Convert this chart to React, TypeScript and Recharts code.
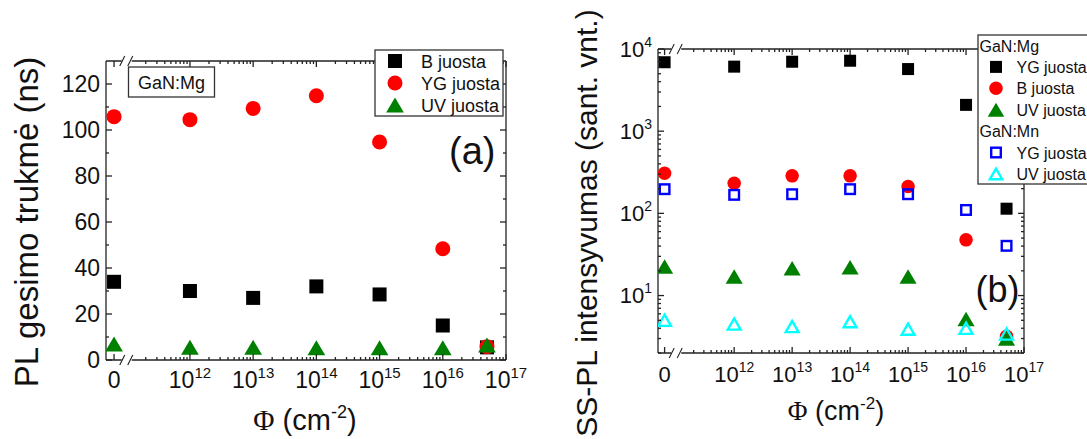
import React from 'react';
import { ScatterChart, Scatter, XAxis, YAxis } from 'recharts';

// ---------- shared x axis (fluence, log scale; "0" placed left of the break) ----------
const fluence = [6.3e10, 1e12, 1e13, 1e14, 1e15, 1e16, 5e16];
const xMajorTicks = [6.3e10, 1e12, 1e13, 1e14, 1e15, 1e16, 1e17];
const xMajorLabels = ['0', '12', '13', '14', '15', '16', '17'];
const xBreak = 1e11;
const xMinorTicks: number[] = [];
for (let e = 11; e <= 16; e++) for (let m = 2; m <= 9; m++) xMinorTicks.push(m * Math.pow(10, e));
const xAllTicks = [...xMajorTicks, xBreak, ...xMinorTicks];

// ---------- panel (a): PL decay time (ns) ----------
const lifeB = [34, 30, 27, 32, 28.5, 15, 5.5];
const lifeYG = [105.8, 104.5, 109.4, 114.9, 94.8, 48.4, 5.8];
const lifeUV = [7, 5.5, 5.5, 5.3, 5.3, 5.3, 6.5];
const lifeMajor = [0, 20, 40, 60, 80, 100, 120];
const lifeMinor = [10, 30, 50, 70, 90, 110];

// ---------- panel (b): SS-PL intensity (a.u.) ----------
const mgYG = [6900, 6100, 7000, 7200, 5700, 2090, 114];
const mgB = [308, 233, 286, 286, 212, 47.6, 3.2];
const mgUV = [22.5, 17, 21.5, 22.1, 17, 5.2, 3.0];
const mnYG = [197, 168, 171, 197, 171, 110, 40.3];
const mnUV = [5.0, 4.5, 4.2, 4.8, 3.9, 4.0, 3.4];
const intMajor = [10, 100, 1000, 10000];
const intMajorLabels = ['1', '2', '3', '4'];
const intMinor: number[] = [];
for (let e = 0; e <= 3; e++) for (let m = 2; m <= 9; m++) intMinor.push(m * Math.pow(10, e));

const pts = (ys: number[]) => fluence.map((x, i) => ({ x, y: ys[i] }));

const FONT = '"Liberation Sans", Arial, sans-serif';
const SERIF = '"Liberation Serif", "Times New Roman", serif';
const AX = '#222';
const SW = 1.3;
const RED = '#ff0000';
const GREEN = '#008000';
const BLUE = '#0000ff';
const CYAN = '#00ffff';

function Marker({ kind, cx, cy, s, color }: any) {
  if (cx == null || cy == null) return null;
  switch (kind) {
    case 'square':
      return <rect x={cx - s / 2} y={cy - s / 2} width={s} height={s} fill={color} />;
    case 'circle':
      return <circle cx={cx} cy={cy} r={s / 2} fill={color} />;
    case 'triangle': {
      const w = s * 1.18, h = s;
      return <polygon points={`${cx},${cy - h / 2} ${cx - w / 2},${cy + h / 2} ${cx + w / 2},${cy + h / 2}`} fill={color} />;
    }
    case 'osquare': {
      const t = 2.4, a = s - t;
      return <rect x={cx - a / 2} y={cy - a / 2} width={a} height={a} fill="none" stroke={color} strokeWidth={t} />;
    }
    case 'otriangle': {
      const t = 2.4, w = s * 1.15 - t * 1.6, h = s - t * 1.4;
      return <polygon points={`${cx},${cy - h / 2} ${cx - w / 2},${cy + h / 2} ${cx + w / 2},${cy + h / 2}`} fill="none" stroke={color} strokeWidth={t} strokeLinejoin="miter" />;
    }
  }
  return null;
}

function XTick(p: any) {
  const { x, y, payload, side, labelSize, supSize, labelGap } = p;
  const v = payload.value;
  const dir = side === 'bottom' ? -1 : 1;
  if (v === xBreak) {
    return (
      <g>
        <rect x={x - 5} y={y - 2} width={10} height={4} fill="#fff" />
        <line x1={x - 7} y1={y + 5} x2={x - 2} y2={y - 5} stroke={AX} strokeWidth={1.1} />
        <line x1={x + 1} y1={y + 5} x2={x + 6} y2={y - 5} stroke={AX} strokeWidth={1.1} />
      </g>
    );
  }
  const idx = xMajorTicks.indexOf(v);
  const len = idx >= 0 ? 6 : 3;
  return (
    <g>
      <line x1={x} y1={y} x2={x} y2={y + dir * len} stroke={AX} strokeWidth={SW} />
      {side === 'bottom' && idx >= 0 && (
        <text x={x} y={y + labelGap} textAnchor="middle" fontSize={labelSize} fontFamily={FONT} fill="#111">
          {xMajorLabels[idx] === '0' ? '0' : (
            <>
              10<tspan dy={-10} fontSize={supSize}>{xMajorLabels[idx]}</tspan>
            </>
          )}
        </text>
      )}
    </g>
  );
}

function YTick(p: any) {
  const { x, y, payload, side, majors, labels, labelSize, supSize, sup } = p;
  const v = payload.value;
  const dir = side === 'left' ? 1 : -1;
  const idx = majors.indexOf(v);
  const len = idx >= 0 ? 6 : 3;
  return (
    <g>
      <line x1={x} y1={y} x2={x + dir * len} y2={y} stroke={AX} strokeWidth={SW} />
      {side === 'left' && idx >= 0 && (
        <text x={x - 6} y={y + labelSize * 0.36} textAnchor="end" fontSize={labelSize} fontFamily={FONT} fill="#111">
          {sup ? (
            <>
              10<tspan dy={-10} fontSize={supSize}>{labels[idx]}</tspan>
            </>
          ) : labels[idx]}
        </text>
      )}
    </g>
  );
}

const axisLine = { stroke: AX, strokeWidth: SW };

function PanelA() {
  const series = [
    { data: lifeB, kind: 'square', s: 14, color: '#000' },
    { data: lifeYG, kind: 'circle', s: 15, color: RED },
    { data: lifeUV, kind: 'triangle', s: 15, color: GREEN },
  ];
  const xDomain = [4.7e10, 1e17];
  const yTicks = [...lifeMajor, ...lifeMinor];
  return (
    <ScatterChart width={540} height={439} margin={{ top: 0, right: 0, bottom: 0, left: 0 }}>
      <XAxis xAxisId="b" orientation="bottom" dataKey="x" type="number" scale="log" domain={xDomain} allowDataOverflow
        ticks={xAllTicks} interval={0} tickSize={0} tickMargin={0} height={79} axisLine={axisLine} tickLine={false}
        tick={(p: any) => <XTick {...p} side="bottom" labelSize={23} supSize={15} labelGap={28} />} />
      <XAxis xAxisId="t" orientation="top" dataKey="x" type="number" scale="log" domain={xDomain} allowDataOverflow
        ticks={xAllTicks} interval={0} tickSize={0} tickMargin={0} height={61} axisLine={axisLine} tickLine={false}
        tick={(p: any) => <XTick {...p} side="top" />} />
      <YAxis yAxisId="l" orientation="left" dataKey="y" type="number" domain={[0, 130]} allowDataOverflow
        ticks={yTicks} interval={0} tickSize={0} tickMargin={0} width={106} axisLine={axisLine} tickLine={false}
        tick={(p: any) => <YTick {...p} side="left" majors={lifeMajor} labels={lifeMajor.map(String)} labelSize={23} />} />
      <YAxis yAxisId="r" orientation="right" dataKey="y" type="number" domain={[0, 130]} allowDataOverflow
        ticks={yTicks} interval={0} tickSize={0} tickMargin={0} width={34} axisLine={axisLine} tickLine={false}
        tick={(p: any) => <YTick {...p} side="right" majors={lifeMajor} labels={[]} />} />
      {series.map((s, i) => (
        <Scatter key={i} xAxisId="b" yAxisId="l" data={pts(s.data)} isAnimationActive={false}
          shape={(p: any) => <Marker kind={s.kind} cx={p.cx} cy={p.cy} s={s.s} color={s.color} />} />
      ))}
    </ScatterChart>
  );
}

function PanelB() {
  const series = [
    { data: mgYG, kind: 'square', s: 12, color: '#000' },
    { data: mgB, kind: 'circle', s: 13.5, color: RED },
    { data: mgUV, kind: 'triangle', s: 14.5, color: GREEN },
    { data: mnYG, kind: 'osquare', s: 12, color: BLUE },
    { data: mnUV, kind: 'otriangle', s: 14.5, color: CYAN },
  ];
  const xDomain = [4.85e10, 1e17];
  const yDomain = [2, 10000];
  const yTicks = [...intMajor, ...intMinor];
  return (
    <ScatterChart width={547} height={439} margin={{ top: 0, right: 0, bottom: 0, left: 0 }}>
      <XAxis xAxisId="b" orientation="bottom" dataKey="x" type="number" scale="log" domain={xDomain} allowDataOverflow
        ticks={xAllTicks} interval={0} tickSize={0} tickMargin={0} height={86} axisLine={axisLine} tickLine={false}
        tick={(p: any) => <XTick {...p} side="bottom" labelSize={22} supSize={14} labelGap={29} />} />
      <XAxis xAxisId="t" orientation="top" dataKey="x" type="number" scale="log" domain={xDomain} allowDataOverflow
        ticks={xAllTicks} interval={0} tickSize={0} tickMargin={0} height={49} axisLine={axisLine} tickLine={false}
        tick={(p: any) => <XTick {...p} side="top" />} />
      <YAxis yAxisId="l" orientation="left" dataKey="y" type="number" scale="log" domain={yDomain} allowDataOverflow
        ticks={yTicks} interval={0} tickSize={0} tickMargin={0} width={118} axisLine={axisLine} tickLine={false}
        tick={(p: any) => <YTick {...p} side="left" majors={intMajor} labels={intMajorLabels} labelSize={22} supSize={14} sup />} />
      <YAxis yAxisId="r" orientation="right" dataKey="y" type="number" scale="log" domain={yDomain} allowDataOverflow
        ticks={yTicks} interval={0} tickSize={0} tickMargin={0} width={63} axisLine={axisLine} tickLine={false}
        tick={(p: any) => <YTick {...p} side="right" majors={intMajor} labels={[]} />} />
      {series.map((s, i) => (
        <Scatter key={i} xAxisId="b" yAxisId="l" data={pts(s.data)} isAnimationActive={false}
          shape={(p: any) => <Marker kind={s.kind} cx={p.cx} cy={p.cy} s={s.s} color={s.color} />} />
      ))}
    </ScatterChart>
  );
}

const legendA = [
  { label: 'B juosta', kind: 'square', s: 14, color: '#000' },
  { label: 'YG juosta', kind: 'circle', s: 15, color: RED },
  { label: 'UV juosta', kind: 'triangle', s: 15, color: GREEN },
];
const legendB = [
  { header: 'GaN:Mg' },
  { label: 'YG juosta', kind: 'square', s: 12, color: '#000' },
  { label: 'B juosta', kind: 'circle', s: 13.5, color: RED },
  { label: 'UV juosta', kind: 'triangle', s: 14, color: GREEN },
  { header: 'GaN:Mn' },
  { label: 'YG juosta', kind: 'osquare', s: 12, color: BLUE },
  { label: 'UV juosta', kind: 'otriangle', s: 14, color: CYAN },
];

function Overlay() {
  return (
    <svg width={1087} height={439} style={{ position: 'absolute', left: 0, top: 0 }} fontFamily={FONT}>
      {/* axis titles */}
      <text transform="translate(38,222) rotate(-90)" textAnchor="middle" fontSize={33} fill="#111">PL gesimo trukmė (ns)</text>
      <text transform="translate(597,223) rotate(-90)" textAnchor="middle" fontSize={30} fill="#111">SS-PL intensyvumas (sant. vnt.)</text>
      <text x={305} y={430} textAnchor="middle" fontSize={29} fill="#111">
        <tspan fontFamily={SERIF}>Φ</tspan> (cm<tspan dy={-12} fontSize={18}>-2</tspan><tspan dy={12}>)</tspan>
      </text>
      <text x={836} y={420} textAnchor="middle" fontSize={27} fill="#111">
        <tspan fontFamily={SERIF}>Φ</tspan> (cm<tspan dy={-11} fontSize={17}>-2</tspan><tspan dy={11}>)</tspan>
      </text>

      {/* panel (a) annotations */}
      <rect x={128.5} y={67} width={86} height={30} fill="#fff" stroke="#333" strokeWidth={1.3} />
      <text x={171.5} y={88.5} textAnchor="middle" fontSize={18} fill="#111">GaN:Mg</text>
      <text x={449} y={164} fontSize={38} fill="#111">(a)</text>
      <rect x={375} y={50} width={128} height={66} fill="#fff" stroke="#333" strokeWidth={1.3} />
      {legendA.map((r, i) => {
        const cy = 61 + i * 22;
        return (
          <g key={i}>
            <Marker kind={r.kind} cx={395} cy={cy} s={r.s} color={r.color} />
            <text x={421} y={cy + 6.5} fontSize={18} fill="#111">{r.label}</text>
          </g>
        );
      })}

      {/* panel (b) annotations */}
      <text x={975.5} y={302} fontSize={36} fill="#111">(b)</text>
      <rect x={978} y={35} width={130} height={149} fill="#fff" stroke="#333" strokeWidth={1.3} />
      {legendB.map((r: any, i) => {
        const cy = 45.5 + i * 21.4;
        if (r.header) return <text key={i} x={979.5} y={cy + 6} fontSize={16} fill="#111">{r.header}</text>;
        return (
          <g key={i}>
            <Marker kind={r.kind} cx={996} cy={cy} s={r.s} color={r.color} />
            <text x={1016.5} y={cy + 6} fontSize={16} fill="#111">{r.label}</text>
          </g>
        );
      })}
    </svg>
  );
}

export default function App() {
  return (
    <div style={{ position: 'absolute', left: 0, top: 0, width: 1087, height: 439, background: '#fff', overflow: 'hidden', fontFamily: FONT }}>
      <div style={{ position: 'absolute', left: 0, top: 0 }}>
        <PanelA />
      </div>
      <div style={{ position: 'absolute', left: 540, top: 0 }}>
        <PanelB />
      </div>
      <Overlay />
    </div>
  );
}
